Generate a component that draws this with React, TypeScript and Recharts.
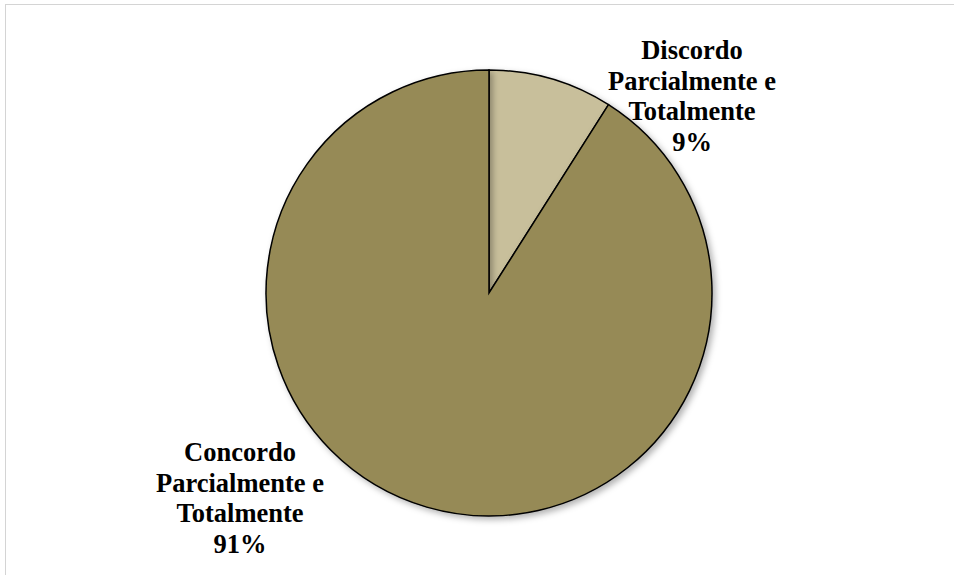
import { PieChart, Pie, Cell } from "recharts"

const categories = ["Discordo Parcialmente e Totalmente", "Concordo Parcialmente e Totalmente"]
const labelLines = [
  ["Discordo", "Parcialmente e", "Totalmente"],
  ["Concordo", "Parcialmente e", "Totalmente"],
]
const shares = [9, 91]
const colors = ["#C8BF9B", "#968A56"]

// label offsets from the pie centre (Excel "best fit" placement)
const labelOffsets = [
  { dx: 203, dy: -234 },
  { dx: -249, dy: 168 },
]

const data = categories.map((name, i) => ({ name, value: shares[i] }))
const total = shares.reduce((a, b) => a + b, 0)

const renderLabel = (props: any) => {
  const { cx, cy, index, value } = props
  const off = labelOffsets[index]
  const x = cx + off.dx
  const y = cy + off.dy
  const lines = [...labelLines[index], `${Math.round((value / total) * 100)}%`]
  return (
    <text
      x={x}
      y={y}
      textAnchor="middle"
      fontFamily="'Liberation Serif', 'Times New Roman', serif"
      fontWeight="bold"
      fontSize={26.5}
      fill="#000"
    >
      {lines.map((l, i) => (
        <tspan key={i} x={x} dy={i === 0 ? 0 : 30.5}>
          {l}
        </tspan>
      ))}
    </text>
  )
}

export default function App() {
  return (
    <div style={{ position: "absolute", left: 0, top: 0, width: 954, height: 575, overflow: "hidden", background: "#fff" }}>
      <div
        style={{
          position: "absolute",
          left: 5,
          top: 4,
          width: 1000,
          height: 700,
          borderLeft: "1.5px solid #d4d4d4",
          borderTop: "1.5px solid #d4d4d4",
        }}
      />
      <PieChart
        width={954}
        height={575}
        margin={{ top: 0, right: 0, bottom: 0, left: 0 }}
        style={{ position: "absolute", left: 0, top: 0 }}
      >
        <defs>
          <filter id="pieShadow" x="-20%" y="-20%" width="140%" height="140%">
            <feDropShadow dx="3" dy="3" stdDeviation="3" floodColor="#000" floodOpacity="0.3" />
          </filter>
        </defs>
        <Pie
          data={data}
          dataKey="value"
          nameKey="name"
          cx={489}
          cy={293}
          outerRadius={223}
          startAngle={90}
          endAngle={-270}
          stroke="#000"
          strokeWidth={1.5}
          label={renderLabel}
          labelLine={false}
          isAnimationActive={false}
          style={{ filter: "url(#pieShadow)" }}
        >
          {data.map((d, i) => (
            <Cell key={d.name} fill={colors[i]} />
          ))}
        </Pie>
      </PieChart>
    </div>
  )
}
